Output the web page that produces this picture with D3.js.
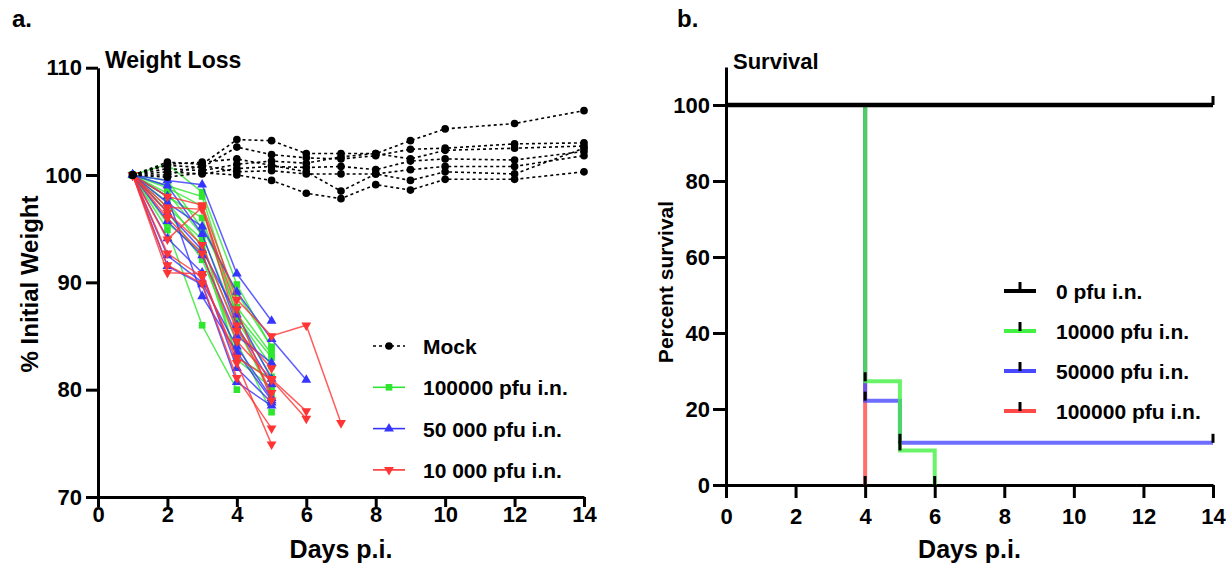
<!DOCTYPE html>
<html>
<head>
<meta charset="utf-8">
<script src="https://cdn.jsdelivr.net/npm/d3@7"></script>
<style>
    body { margin: 0; background: #fff; }
    svg text { font-family: Arial, "Liberation Sans", sans-serif; font-weight: bold; fill: #000; }
</style>
</head>
<body>
<svg id="chart" width="1226" height="568"></svg>
<script>
// 称重的日期
const weighDays = [1, 2, 3, 4, 5, 6, 7, 8, 9, 10, 12, 14]
// 每只小鼠的体重百分比 (从第1天开始)
const mockWeights = [
    [100, 101.2, 101.0, 103.3, 103.2, 102.0, 102.0, 102.0, 103.2, 104.3, 104.8, 106.0],
    [100, 100.9, 100.7, 102.6, 101.9, 101.6, 101.5, 101.8, 102.4, 102.5, 102.9, 103.0],
    [100, 100.6, 100.4, 101.0, 101.3, 101.1, 101.7, 102.0, 101.5, 102.3, 102.5, 102.7],
    [100, 100.3, 100.1, 100.6, 100.8, 100.7, 100.8, 100.5, 101.3, 101.5, 101.4, 102.2],
    [100, 100.0, 100.9, 100.3, 100.4, 100.1, 100.1, 100.1, 100.5, 100.8, 100.8, 101.8],
    [100, 99.8, 100.2, 100.0, 99.5, 98.3, 97.8, 99.1, 98.6, 99.6, 99.6, 100.3],
    [100, 101.0, 101.2, 101.5, 100.9, 100.3, 98.5, 100.1, 99.5, 100.3, 100.1, 102.5]
]
const highDoseWeights = [
    [100, 101.0, 98.4, 89.8, 83.9],
    [100, 99.0, 98.0, 87.7, 83.3],
    [100, 98.8, 97.1, 86.8, 82.2],
    [100, 98.3, 94.4, 86.5, 81.2],
    [100, 97.5, 93.3, 85.8, 79.5],
    [100, 96.6, 92.1, 84.4, 77.9],
    [100, 94.9, 86.0, 80.0],
    [100, 99.5, 95.0, 89.0, 84.0],
    [100, 95.5, 92.8, 83.0, 81.0],
    [100, 97.0, 94.0, 82.8, 80.2],
    [100, 98.0, 96.0, 87.0, 83.0]
]
const midDoseWeights = [
    [100, 99.5, 99.1, 90.8, 86.4],
    [100, 97.4, 95.2, 89.1, 84.7, 80.9],
    [100, 95.7, 92.5, 85.0, 82.5],
    [100, 94.1, 90.9, 82.0, 78.8],
    [100, 91.5, 89.8, 80.7, 78.5],
    [100, 98.0, 88.7, 83.5, 79.0],
    [100, 96.5, 93.0, 87.0, 81.0],
    [100, 99.0, 94.5, 86.0, 80.5],
    [100, 92.5, 90.0, 84.0, 79.2]
]
const lowDoseWeights = [
    [100, 98.0, 97.2, 88.4, 85.0, 86.0, 76.9],
    [100, 96.0, 92.7, 84.5, 81.0, 78.0],
    [100, 92.7, 90.5, 83.0, 80.9, 77.3],
    [100, 91.6, 89.9, 81.1, 76.4],
    [100, 90.9, 90.8, 82.5, 74.9],
    [100, 94.0, 97.0, 86.0, 79.7],
    [100, 96.5, 93.5, 85.5, 82.0],
    [100, 97.0, 96.8, 87.5, 79.0]
]
const weightLegend = ["Mock", "100000 pfu i.n.", "50 000 pfu i.n.", "10 000 pfu i.n."]

// 生存曲线
const survivalLegend = ["0 pfu i.n.", "10000 pfu i.n.", "50000 pfu i.n.", "100000 pfu i.n."]
const survivalDays = [[0, 14], [0, 4, 5, 6], [0, 4, 5, 14], [0, 4]]
const survivalPct = [[100, 100], [100, 27.3, 9.1, 0], [100, 22.2, 11.1, 11.1], [100, 0]]

const dayTicks = [0, 2, 4, 6, 8, 10, 12, 14]
const weightTicks = [70, 80, 90, 100, 110]
const survivalTicks = [0, 20, 40, 60, 80, 100]

let svg = d3.select("#chart")
let green = "#2ee62e", blue = "#3535ff", red = "#ff3535"

//面板标签
svg.append("text").attr("x", 12).attr("y", 27).attr("font-size", 24).text("a.")
svg.append("text").attr("x", 677).attr("y", 27).attr("font-size", 24).text("b.")

// ---------- a. Weight Loss ----------
let xL = d3.scaleLinear().domain([0, 14]).range([98, 584])
let yL = d3.scaleLinear().domain([70, 110]).range([497, 67.7])

function styleAxis(g, fs) {
    g.selectAll("path, line").attr("stroke", "#000").attr("stroke-width", 3)
    g.selectAll("text").attr("font-size", fs).attr("fill", "#000")
    g.attr("font-family", null)
}
svg.append("g")
    .attr("transform", `translate(0,${yL(70)})`)
    .call(d3.axisBottom(xL).tickValues(dayTicks).tickSize(10).tickSizeOuter(0).tickPadding(-1))
    .call(g => styleAxis(g, 22))
svg.append("g")
    .attr("transform", `translate(${xL(0)},0)`)
    .call(d3.axisLeft(yL).tickValues(weightTicks).tickSize(12).tickSizeOuter(0).tickPadding(4))
    .call(g => styleAxis(g, 22))

svg.append("text").attr("x", 105).attr("y", 68).attr("font-size", 23).text("Weight Loss")
svg.append("text").attr("x", (xL(0) + xL(14)) / 2).attr("y", 558)
    .attr("text-anchor", "middle").attr("font-size", 25).text("Days p.i.")
svg.append("text").attr("transform", "translate(38,284) rotate(-90)")
    .attr("text-anchor", "middle").attr("font-size", 24).text("% Initial Weight")

let weightLine = d3.line().x((d, i) => xL(weighDays[i])).y(d => yL(d))
let tri = d3.symbol().type(d3.symbolTriangle).size(42)
let sq = d3.symbol().type(d3.symbolSquare).size(44)
let dot = d3.symbol().type(d3.symbolCircle).size(46)

function drawGroup(data, color, sym, rot, dashed) {
    let g = svg.append("g")
    g.selectAll("path.ln")
        .data(data)
        .enter()
        .append("path")
        .attr("class", "ln")
        .attr("fill", "none")
        .attr("stroke", color)
        .attr("stroke-width", dashed ? 1.6 : 1.5)
        .attr("stroke-opacity", dashed ? 1 : 0.8)
        .attr("stroke-dasharray", dashed ? "3,3" : null)
        .attr("d", d => weightLine(d))
    data.forEach(m => {
        g.append("g")
            .selectAll("path")
            .data(m)
            .enter()
            .append("path")
            .attr("d", sym)
            .attr("fill", color)
            .attr("transform", (d, i) => `translate(${xL(weighDays[i])},${yL(d)}) rotate(${rot})`)
    })
}
drawGroup(highDoseWeights, green, sq, 0, false)
drawGroup(midDoseWeights, blue, tri, 0, false)
drawGroup(lowDoseWeights, red, tri, 180, false)
drawGroup(mockWeights, "#000", dot, 0, true)

//图例
let legA = [
    { color: "#000", sym: dot, rot: 0, dashed: true },
    { color: green, sym: sq, rot: 0 },
    { color: blue, sym: tri, rot: 0 },
    { color: red, sym: tri, rot: 180 }
]
legA.forEach((d, i) => {
    let y = 346 + i * 41.3
    svg.append("line").attr("x1", 373).attr("x2", 405).attr("y1", y).attr("y2", y)
        .attr("stroke", d.color).attr("stroke-width", 1.6)
        .attr("stroke-dasharray", d.dashed ? "3,3" : null)
    svg.append("path").attr("d", d.sym).attr("fill", d.color)
        .attr("transform", `translate(389,${y}) rotate(${d.rot})`)
    svg.append("text").attr("x", 423).attr("y", y + 8).attr("font-size", 21).text(weightLegend[i])
})

// ---------- b. Survival ----------
let xR = d3.scaleLinear().domain([0, 14]).range([726, 1213])
let yR = d3.scaleLinear().domain([0, 110]).range([485, 67])

svg.append("g")
    .attr("transform", `translate(0,${yR(0)})`)
    .call(d3.axisBottom(xR).tickValues(dayTicks).tickSize(13).tickSizeOuter(0).tickPadding(10))
    .call(g => styleAxis(g, 22))
svg.append("g")
    .attr("transform", `translate(${xR(0)},0)`)
    .call(d3.axisLeft(yR).tickValues(survivalTicks).tickSize(13).tickSizeOuter(0).tickPadding(3))
    .call(g => styleAxis(g, 22))

svg.append("text").attr("x", 733).attr("y", 69).attr("font-size", 22).text("Survival")
svg.append("text").attr("x", (xR(0) + xR(14)) / 2).attr("y", 558)
    .attr("text-anchor", "middle").attr("font-size", 25).text("Days p.i.")
svg.append("text").attr("transform", "translate(673,282) rotate(-90)")
    .attr("text-anchor", "middle").attr("font-size", 21).text("Percent survival")

let survColors = ["#000", "#44f044", "#4848ff", "#ff4848"]
let stepLine = d3.line().curve(d3.curveStepAfter)
    .x(d => xR(d[0])).y(d => yR(d[1]))
let order = [3, 2, 1, 0]
order.forEach(k => {
    let pts = survivalDays[k].map((d, i) => [d, survivalPct[k][i]])
    svg.append("path")
        .attr("fill", "none")
        .attr("stroke", survColors[k])
        .attr("stroke-width", k == 0 ? 4.5 : 4)
        .attr("stroke-opacity", k == 0 ? 1 : 0.8)
        .attr("d", stepLine(pts))
})
//删失刻度
order.forEach(k => {
    let pts = survivalDays[k].map((d, i) => [d, survivalPct[k][i]]).slice(1)
    svg.append("g")
        .selectAll("line")
        .data(pts)
        .enter()
        .append("line")
        .attr("x1", d => xR(d[0])).attr("x2", d => xR(d[0]))
        .attr("y1", d => yR(d[1])).attr("y2", d => yR(d[1]) - 9)
        .attr("stroke", "#000").attr("stroke-width", 3)
})

//图例
survivalLegend.forEach((name, i) => {
    let y = 291 + i * 40
    svg.append("line").attr("x1", 1004).attr("x2", 1036).attr("y1", y).attr("y2", y)
        .attr("stroke", survColors[i]).attr("stroke-width", 4)
    svg.append("line").attr("x1", 1020).attr("x2", 1020).attr("y1", y).attr("y2", y - 9)
        .attr("stroke", "#000").attr("stroke-width", 3)
    svg.append("text").attr("x", 1056).attr("y", y + 8).attr("font-size", 21).text(name)
})
</script>
</body>
</html>
